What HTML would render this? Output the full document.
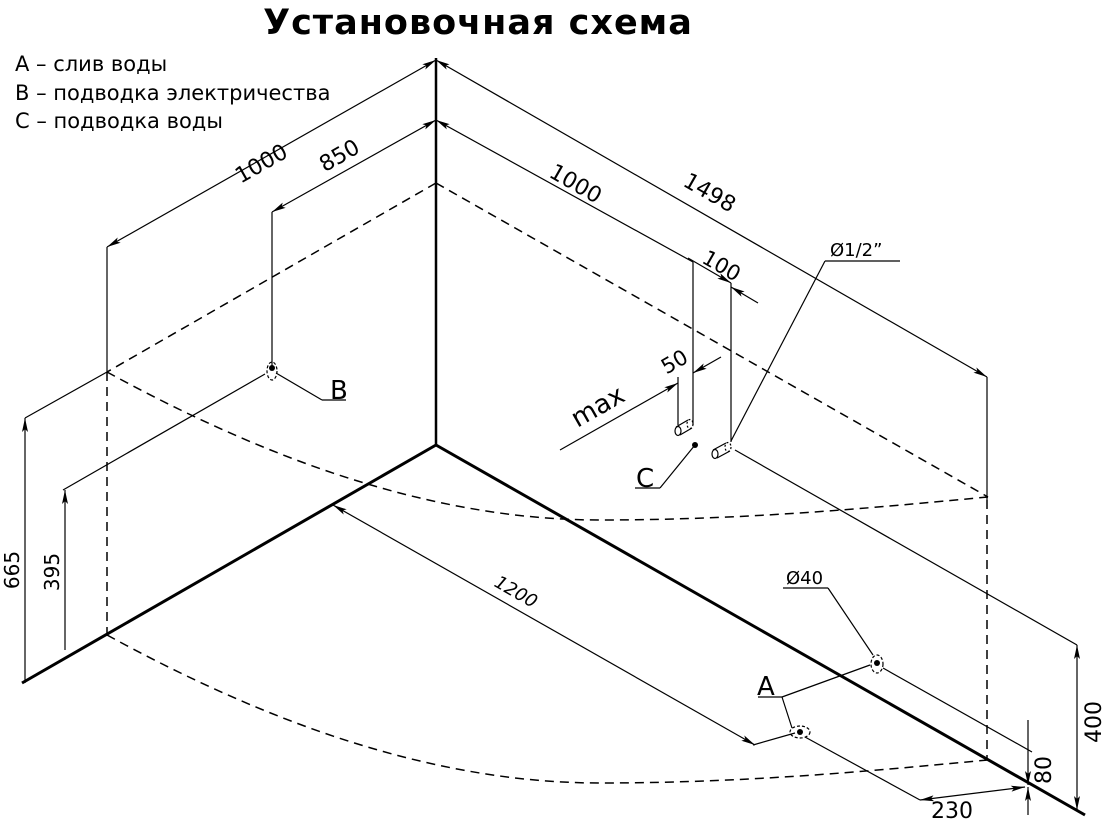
<!DOCTYPE html>
<html><head><meta charset="utf-8"><style>
html,body{margin:0;padding:0;background:#fff;}
svg{display:block;font-family:"Liberation Sans","DejaVu Sans",sans-serif;}
</style></head><body>
<svg width="1105" height="826" viewBox="0 0 1105 826" xmlns="http://www.w3.org/2000/svg">
<defs>
<marker id="ar" viewBox="0 0 14 6" refX="14" refY="3" markerWidth="14" markerHeight="6" orient="auto-start-reverse" markerUnits="userSpaceOnUse">
<path d="M0,0 L14,3 L0,6 L3,3 Z" fill="#000"/>
</marker>
</defs>
<text x="478" y="34" text-anchor="middle" font-size="35" font-weight="bold" letter-spacing="1" font-family="'DejaVu Sans','Liberation Sans','Noto Sans CJK JP',sans-serif">Установочная схема</text>
<g font-size="21" font-family="'DejaVu Sans','Liberation Sans',sans-serif">
<text x="15" y="71">A – слив воды</text>
<text x="15" y="100">B – подводка электричества</text>
<text x="15" y="128">C – подводка воды</text>
</g>
<g stroke="#000" fill="none" stroke-width="1.2">
<line x1="436" y1="58" x2="436" y2="445" stroke-width="2.5"/>
<line x1="436" y1="445" x2="22" y2="683" stroke-width="3"/>
<line x1="436" y1="445" x2="1085" y2="815" stroke-width="3"/>
<g stroke-dasharray="9,6" stroke-width="1.5">
<line x1="436" y1="183" x2="107" y2="372"/>
<line x1="436" y1="183" x2="988" y2="497"/>
<path d="M107,372 C250,450 420,520 600,520 C760,520 900,505 988,497"/>
<path d="M107,635 C250,713 420,783 600,783 C760,783 900,768 988,760"/>
<line x1="107" y1="372" x2="107" y2="640"/>
<line x1="987" y1="500" x2="987" y2="760"/>
</g>
<line x1="436" y1="60" x2="107" y2="247" marker-start="url(#ar)" marker-end="url(#ar)"/>
<line x1="107" y1="247" x2="107" y2="372"/>
<line x1="436" y1="120" x2="272" y2="212" marker-start="url(#ar)" marker-end="url(#ar)"/>
<line x1="272" y1="212" x2="272" y2="368"/>
<line x1="436" y1="120" x2="693" y2="262" marker-start="url(#ar)"/>
<line x1="693" y1="262" x2="693" y2="425"/>
<line x1="436" y1="60" x2="987" y2="377" marker-start="url(#ar)" marker-end="url(#ar)"/>
<line x1="987" y1="377" x2="987" y2="500"/>
<line x1="688" y1="258" x2="731" y2="283" marker-end="url(#ar)"/>
<line x1="758" y1="303" x2="731" y2="287" marker-end="url(#ar)"/>
<line x1="731" y1="283" x2="731" y2="442"/>
<line x1="560" y1="450" x2="678" y2="383" marker-end="url(#ar)"/>
<line x1="721" y1="357" x2="693" y2="373" marker-end="url(#ar)"/>
<line x1="678" y1="377" x2="678" y2="425"/>
<g stroke-width="1.2">
<path d="M676,427 L688,420 M680,435 L692,428"/>
<ellipse cx="678" cy="431" rx="3" ry="4.5"/>
<ellipse cx="690" cy="424" rx="3" ry="4.5" stroke-dasharray="2,2"/>
<path d="M713,450 L726,443 M717,458 L730,451"/>
<ellipse cx="715" cy="454" rx="3" ry="4.5"/>
<ellipse cx="728" cy="447" rx="3" ry="4.5" stroke-dasharray="2,2"/>
</g>
<line x1="695" y1="445" x2="660" y2="488"/>
<line x1="660" y1="488" x2="635" y2="488"/>
<line x1="731" y1="441" x2="825" y2="261"/>
<line x1="825" y1="261" x2="900" y2="261"/>
<line x1="735" y1="450" x2="1077" y2="645"/>
<line x1="1077" y1="645" x2="1077" y2="810" marker-start="url(#ar)" marker-end="url(#ar)"/>
<line x1="107" y1="372" x2="25" y2="418"/>
<line x1="25" y1="418" x2="25" y2="683" marker-start="url(#ar)"/>
<line x1="265" y1="374" x2="63" y2="490"/>
<line x1="65" y1="490" x2="65" y2="650" marker-start="url(#ar)"/>
<ellipse cx="272" cy="371" rx="5" ry="9" stroke-dasharray="3,2"/>
<line x1="276" y1="373" x2="322" y2="400"/>
<line x1="322" y1="400" x2="346" y2="400"/>
<line x1="333" y1="505" x2="755" y2="745" marker-start="url(#ar)" marker-end="url(#ar)"/>
<line x1="753" y1="745" x2="795" y2="733"/>
<ellipse cx="800" cy="732" rx="10" ry="6" stroke-dasharray="3,2"/>
<line x1="782" y1="697" x2="792" y2="728"/>
<line x1="758" y1="697" x2="782" y2="697"/>
<line x1="782" y1="697" x2="870" y2="665"/>
<ellipse cx="877" cy="664" rx="6" ry="9" stroke-dasharray="3,2"/>
<line x1="873" y1="655" x2="828" y2="588"/>
<line x1="828" y1="588" x2="783" y2="588"/>
<line x1="883" y1="668" x2="1032" y2="752"/>
<line x1="805" y1="737" x2="920" y2="800"/>
<line x1="920" y1="800" x2="1025" y2="787" marker-start="url(#ar)" marker-end="url(#ar)"/>
<line x1="1028" y1="720" x2="1028" y2="785" marker-end="url(#ar)"/>
<line x1="1028" y1="815" x2="1028" y2="787" marker-end="url(#ar)"/>
</g>
<g fill="#000">
<circle cx="272" cy="368" r="3"/>
<circle cx="695" cy="445" r="3"/>
<circle cx="800" cy="732" r="3"/>
<circle cx="877" cy="663" r="3"/>
</g>
<g font-family="'DejaVu Sans','Liberation Sans',sans-serif">
<text x="330" y="399" font-size="26">B</text>
<text x="636" y="487" font-size="26">C</text>
<text x="757" y="695" font-size="26">A</text>
<text transform="translate(265,170) rotate(-29.6)" text-anchor="middle" font-size="22">1000</text>
<text transform="translate(343,162) rotate(-29.6)" text-anchor="middle" font-size="22">850</text>
<text transform="translate(572,190) rotate(29.8)" text-anchor="middle" font-size="22">1000</text>
<text transform="translate(706,199) rotate(29.8)" text-anchor="middle" font-size="22">1498</text>
<text transform="translate(718,272) rotate(29.8)" text-anchor="middle" font-size="21">100</text>
<text transform="translate(678,368) rotate(-29.6)" text-anchor="middle" font-size="21">50</text>
<text transform="translate(602,414) rotate(-29.6)" text-anchor="middle" font-size="26">max</text>
<text transform="translate(513,597) rotate(29.6)" text-anchor="middle" font-size="18" font-style="italic">1200</text>
<text x="830" y="256" font-size="18">Ø1/2”</text>
<text x="786" y="584" font-size="18">Ø40</text>
<text x="952" y="818" text-anchor="middle" font-size="22">230</text>
<text transform="translate(19,570) rotate(-90)" text-anchor="middle" font-size="20">665</text>
<text transform="translate(59,572) rotate(-90)" text-anchor="middle" font-size="20">395</text>
<text transform="translate(1051,770) rotate(-90)" text-anchor="middle" font-size="22">80</text>
<text transform="translate(1101,722) rotate(-90)" text-anchor="middle" font-size="22">400</text>
</g>
</svg>
</body></html>
